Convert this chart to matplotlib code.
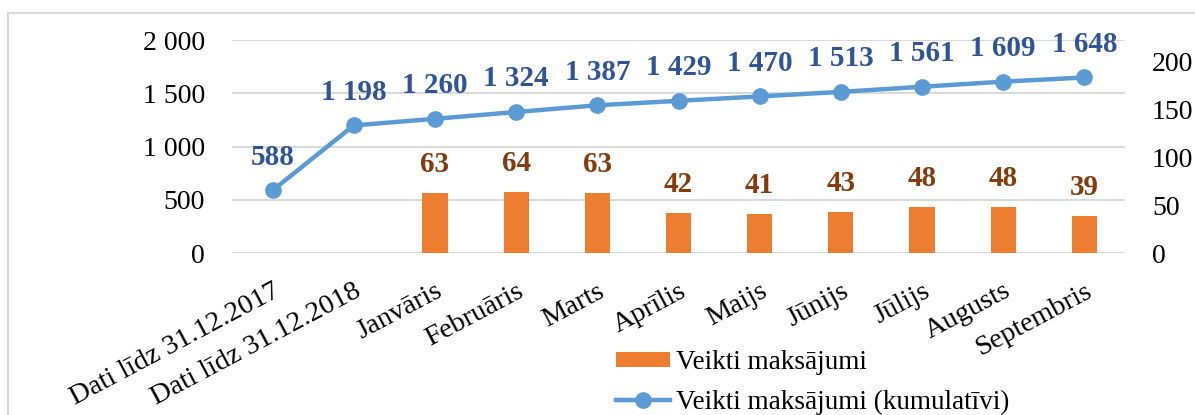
import numpy as np
import matplotlib
matplotlib.use('Agg')
import matplotlib.pyplot as plt
from matplotlib.patches import Rectangle
from matplotlib.ticker import FuncFormatter

# Dati
kategorijas = ['Dati līdz 31.12.2017', 'Dati līdz 31.12.2018', 'Janvāris', 'Februāris',
               'Marts', 'Aprīlis', 'Maijs', 'Jūnijs', 'Jūlijs', 'Augusts', 'Septembris']
kumulativi = [588, 1198, 1260, 1324, 1387, 1429, 1470, 1513, 1561, 1609, 1648]
maksajumi = [63, 64, 63, 42, 41, 43, 48, 48, 39]

plt.rcParams['font.family'] = ['Liberation Serif', 'DejaVu Serif']

def fmt(v):
    return f'{int(v):,}'.replace(',', ' ')

fig = plt.figure(figsize=(11.95, 4.15), dpi=100)
fig.patches.append(Rectangle((8 / 1195, -0.1), 1.1, 1.1 - 13 / 415,
                             transform=fig.transFigure, fill=False,
                             edgecolor='#D9D9D9', linewidth=1.5))

# ax - rezgis un x ass, ax2 - stabini (laba ass), ax3 - linija (kreisa skala)
ax = fig.add_axes([232 / 1195, 1 - 253 / 415, 893 / 1195, 213 / 415])
ax2 = ax.twinx()
ax3 = ax.twinx()

x = np.arange(len(kategorijas))
xb = np.arange(2, len(kategorijas))

ax.set_xlim(-0.5, len(kategorijas) - 0.5)
ax.set_ylim(0, 2000)
ax.set_yticks(np.arange(0, 2001, 500))
ax.yaxis.set_major_formatter(FuncFormatter(lambda v, p: fmt(v)))
ax.grid(axis='y', color='#D9D9D9', linewidth=1.5)

ax2.set_ylim(0, 222)
ax2.set_yticks(np.arange(0, 201, 50))

ax3.set_ylim(0, 2000)
ax3.yaxis.set_visible(False)

bars = ax2.bar(xb, maksajumi, width=0.31, color='#ED7D31', label='Veikti maksājumi')
for xi, v in zip(xb, maksajumi):
    ax2.annotate(str(v), (xi, v), xytext=(0, 28), textcoords='offset pixels',
                 ha='center', va='center', fontsize=21, fontweight='bold', color='#843C0C')

line, = ax3.plot(x, kumulativi, color='#5B9BD5', linewidth=3.2, marker='o', markersize=11,
                 label='Veikti maksājumi (kumulatīvi)')
for xi, v in zip(x, kumulativi):
    ax3.annotate(fmt(v), (xi, v), xytext=(0, 33), textcoords='offset pixels',
                 ha='center', va='center', fontsize=21, fontweight='bold', color='#2F5597')

for a in (ax, ax2, ax3):
    for s in a.spines.values():
        s.set_visible(False)
    a.tick_params(length=0, labelsize=20)

ax.tick_params(axis='y', pad=19.5)
ax2.tick_params(axis='y', pad=19.5)
ax.set_xticks(x)
ax.set_xticklabels(kategorijas, rotation=28, ha='right', va='top',
                   rotation_mode='anchor', fontsize=20.5)
ax.tick_params(axis='x', pad=18.5)

fig.legend([bars, line], ['Veikti maksājumi', 'Veikti maksājumi (kumulatīvi)'],
           loc='upper left', bbox_to_anchor=(616 / 1195, 1 - 350 / 415),
           frameon=False, fontsize=19.5, handlelength=2.0, handleheight=0.5,
           handletextpad=0.2, labelspacing=0.55, borderaxespad=0, borderpad=0)

plt.savefig('out.png', dpi=100)
